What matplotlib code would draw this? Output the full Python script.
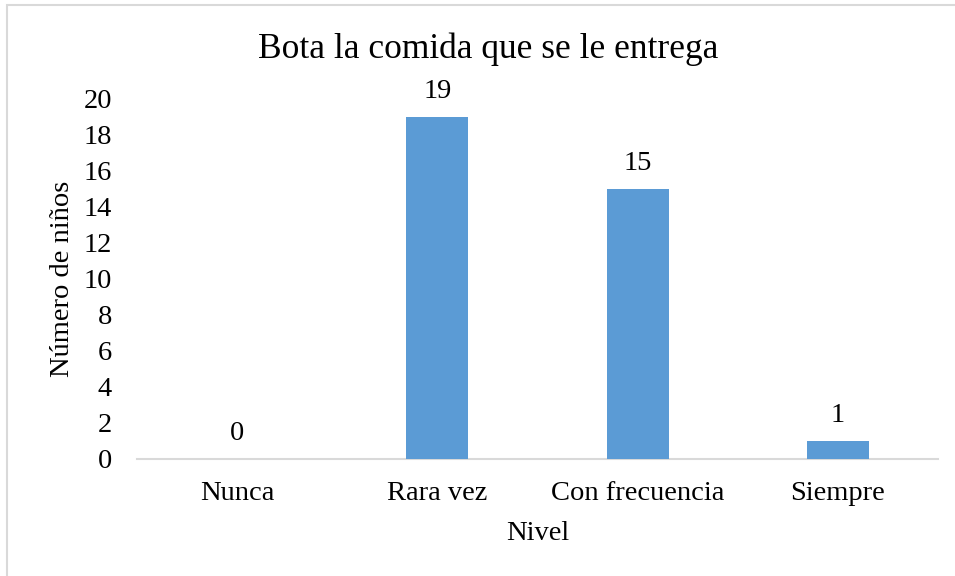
import matplotlib
matplotlib.use("Agg")
import matplotlib.pyplot as plt
from matplotlib.patches import Rectangle

categories = ["Nunca", "Rara vez", "Con frecuencia", "Siempre"]
values = [0, 19, 15, 1]
yticks = [0, 2, 4, 6, 8, 10, 12, 14, 16, 18, 20]

plt.rcParams['font.family'] = ['Liberation Serif', 'DejaVu Serif']

W, H = 955, 576
fig = plt.figure(figsize=(W/100, H/100), dpi=100)
fig.patch.set_facecolor('white')

# outer border (only left/top visible in reference)
fig.patches.append(Rectangle((7/W, -0.1), 1.2, 1 - 5/H + 0.1, transform=fig.transFigure,
                             fill=False, edgecolor='#d9d9d9', linewidth=1.5))

FS = 20.5
ax = fig.add_axes([137/W, 1 - 459/H, (938-137)/W, (459-99)/H])
x = range(len(categories))
ax.bar(x, values, width=0.31, color='#5b9bd5', zorder=3)
ax.set_xlim(-0.5, 3.5)
ax.set_ylim(0, 20)
ax.set_yticks(yticks)
ax.set_xticks(list(x))
ax.set_xticklabels(categories)
for s in ['top', 'right', 'left']:
    ax.spines[s].set_visible(False)
ax.spines['bottom'].set_color('#d9d9d9')
ax.spines['bottom'].set_linewidth(1.5)
ax.tick_params(axis='both', length=0, labelsize=FS, colors='black')
ax.tick_params(axis='y', pad=18)
ax.tick_params(axis='x', pad=16)
for xi, v in zip(x, values):
    ax.text(xi, v + 0.7, str(v), ha='center', va='bottom', fontsize=FS)

ax.set_ylabel("Número de niños", fontsize=FS, labelpad=6)
ax.set_xlabel("Nivel", fontsize=FS, labelpad=11)
fig.text(488/W, 1 - 49/H, "Bota la comida que se le entrega", ha='center', va='center', fontsize=25.5)

fig.savefig("out.png", dpi=100)
